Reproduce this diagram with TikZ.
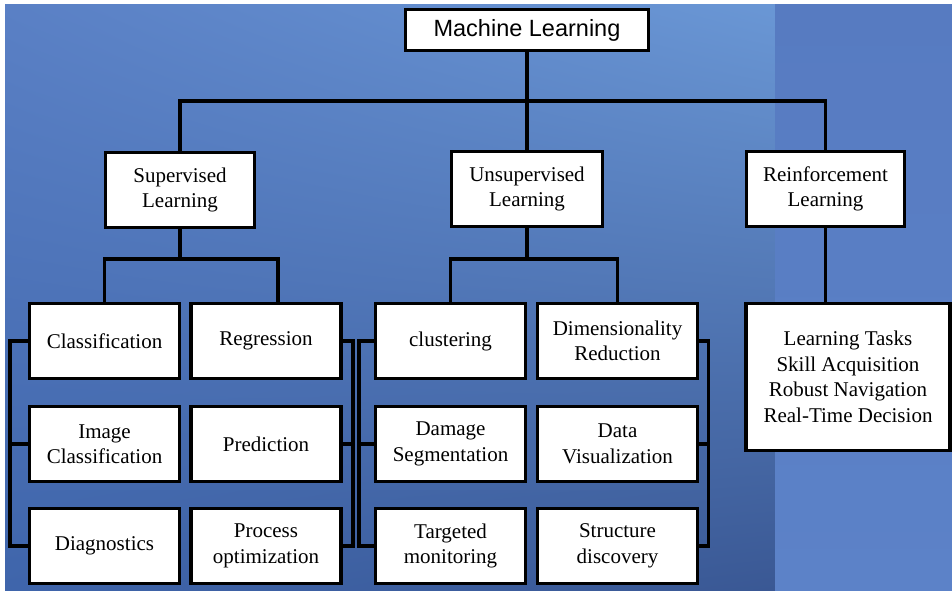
\documentclass[tikz,border=0pt]{standalone}
\usepackage{fontspec}
\usetikzlibrary{shadings}
\setmainfont{Liberation Serif}
\newfontfamily\mlsans{Liberation Sans}
\definecolor{bgtl}{HTML}{5A80C5}
\definecolor{bgtr}{HTML}{6A97D5}
\definecolor{bgbl}{HTML}{3F65AB}
\definecolor{bgbr}{HTML}{3A5894}
\definecolor{paneltop}{HTML}{577BC1}
\definecolor{panelbot}{HTML}{5C82C8}
\begin{document}
\begin{tikzpicture}[
  x=1pt, y=-1pt,
  every node/.style={
    draw,
    rectangle,
    fill=white,
    line width=3.5pt,
    align=center,
    inner sep=2pt,
    font=\fontsize{21}{25.5}\selectfont
  },
  leaf/.style={minimum width=150pt, minimum height=75pt},
  wide/.style={minimum width=160pt, minimum height=75pt},
  link/.style={line width=3.5pt, line cap=rect}
]
  \useasboundingbox (0,0) rectangle (952,592);
  \fill[white] (0,0) rectangle (952,592);
  \shade[upper left=bgtl, upper right=bgtr, lower left=bgbl, lower right=bgbr]
    (5,4) rectangle (775,590);
  \shade[top color=paneltop, bottom color=panelbot] (775,4) rectangle (952,590);

  \node[minimum width=243pt, minimum height=41pt,
        font=\mlsans\fontsize{23.5}{27}\selectfont] (ml) at (527,30) {Machine Learning};

  \node[minimum width=149pt, minimum height=75pt] (sup)  at (180,190)   {Supervised\\Learning};
  \node[minimum width=151pt, minimum height=75pt] (uns)  at (527,189)   {Unsupervised\\Learning};
  \node[minimum width=158pt, minimum height=75pt] (rein) at (825.5,189) {Reinforcement\\Learning};

  \node[leaf] (cls)  at (104.5,341) {Classification};
  \node[leaf] (reg)  at (266,341)   {Regression};
  \node[leaf] (img)  at (104.5,444) {Image\\Classification};
  \node[leaf] (pred) at (266,444)   {Prediction};
  \node[leaf] (diag) at (104.5,546) {Diagnostics};
  \node[leaf] (proc) at (266,546)   {Process\\optimization};

  \node[leaf] (clu) at (450.5,341) {clustering};
  \node[wide] (dim) at (617.5,341) {Dimensionality\\Reduction};
  \node[leaf] (dmg) at (450.5,444) {Damage\\Segmentation};
  \node[wide] (vis) at (617.5,444) {Data\\Visualization};
  \node[leaf] (tgt) at (450.5,546) {Targeted\\monitoring};
  \node[wide] (str) at (617.5,546) {Structure\\discovery};

  \node[minimum width=204pt, minimum height=147pt] (tasks) at (848,377)
    {Learning Tasks\\Skill Acquisition\\Robust Navigation\\Real-Time Decision};

  \coordinate (top)   at (527,101);
  \coordinate (supj)  at (180,259);
  \coordinate (unsj)  at (527,259);
  \coordinate (regin) at (278,302);

  \draw[link] (ml) -- (uns);
  \draw[link] (sup) |- (top) -| (rein);
  \draw[link] (sup) -- (supj);
  \draw[link] (cls) |- (supj) -| (regin);
  \draw[link] (uns) -- (unsj);
  \draw[link] (clu) |- (unsj) -| (dim);
  \draw[link] (rein) -- (rein |- tasks.north);

  \draw[link] (cls.west) -- ++(-18,0) |- (diag.west);
  \draw[link] (img.west) -- ++(-18,0);
  \draw[link] (reg.east) -- ++(10,0) |- (proc.east);
  \draw[link] (pred.east) -- ++(10,0);
  \draw[link] (clu.west) -- ++(-15,0) |- (tgt.west);
  \draw[link] (dmg.west) -- ++(-15,0);
  \draw[link] (dim.east) -- ++(9,0) |- (str.east);
  \draw[link] (vis.east) -- ++(9,0);
\end{tikzpicture}
\end{document}
